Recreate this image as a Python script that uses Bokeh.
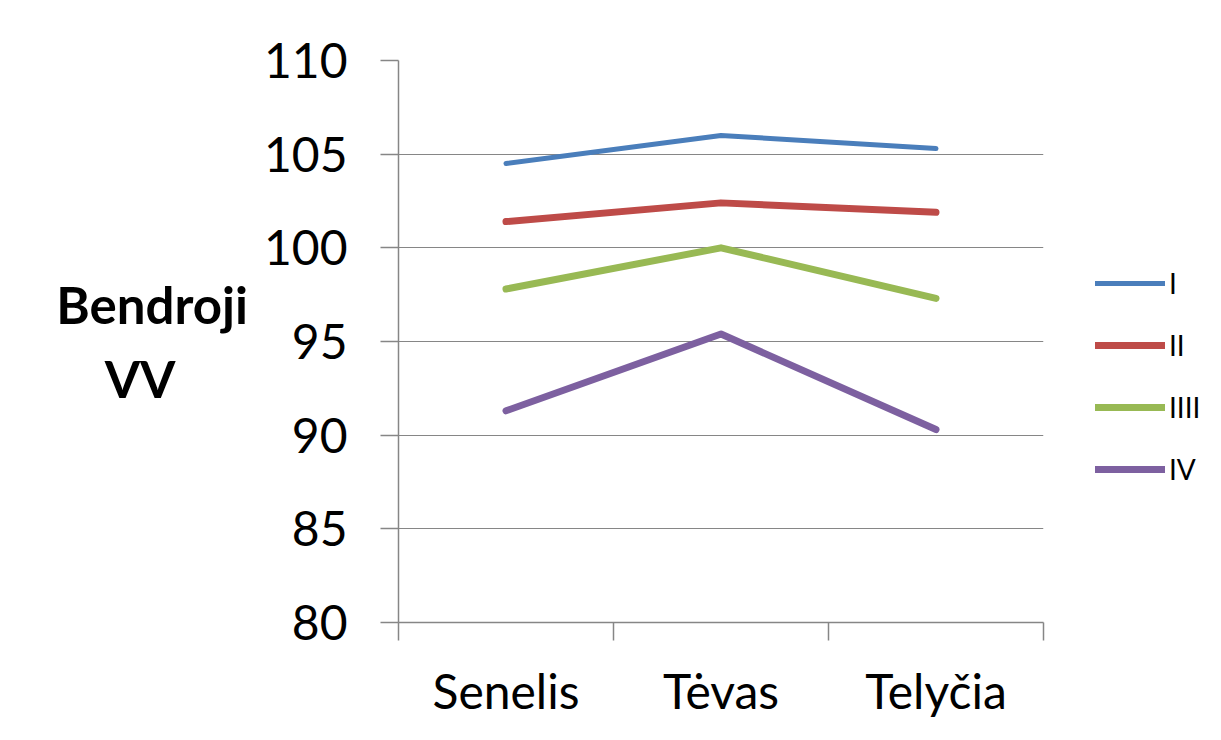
from bokeh.plotting import figure
from bokeh.models import (Range1d, LinearAxis, FixedTicker, Legend, LegendItem,
                          CustomJSTickFormatter)
from bokeh.embed import file_html
from bokeh.resources import INLINE

# ---- data ----
categories = ["Senelis", "Tėvas", "Telyčia"]
series_names = ["I", "II", "IIII", "IV"]
values_I = [104.5, 106.0, 105.3]
values_II = [101.4, 102.4, 101.9]
values_IIII = [97.8, 100.0, 97.3]
values_IV = [91.3, 95.4, 90.3]
y_ticks = [80, 85, 90, 95, 100, 105, 110]
y_label_lines = ["Bendroji", "VV"]

series_values = [values_I, values_II, values_IIII, values_IV]
colors = ["#4A7EBB", "#BE4B48", "#98B954", "#7D60A0"]
widths = [5, 7, 7, 7]

FONT = "Lato"
GRID = "#868686"

n = len(categories)
x_centers = [i + 0.5 for i in range(n)]      # category slots on a 0..n axis
x_bounds = list(range(n + 1))

p = figure(x_range=Range1d(0, n), y_range=Range1d(y_ticks[0], y_ticks[-1]),
           frame_width=645, frame_height=562,
           output_backend="svg", toolbar_location=None,
           x_axis_location=None, y_axis_location=None,
           min_border_left=398, min_border_right=160, min_border_top=60,
           min_border_bottom=100)
p.outline_line_color = None
p.xgrid.grid_line_color = None
p.ygrid.grid_line_color = GRID
p.ygrid.grid_line_width = 1.2
p.ygrid.ticker = FixedTicker(ticks=y_ticks)

# y axis
yax = LinearAxis(ticker=FixedTicker(ticks=y_ticks, minor_ticks=[]))
yax.major_label_text_font = FONT
yax.major_label_text_font_size = "48px"
yax.major_label_text_color = "#000000"
yax.major_tick_out = 18
yax.major_tick_in = 0
yax.major_tick_line_color = GRID
yax.major_tick_line_width = 1.5
yax.minor_tick_line_color = None
yax.axis_line_color = GRID
yax.axis_line_width = 1.5
yax.major_label_standoff = 33
# horizontal two-line title; second line padded so it sits centred
yax.axis_label = y_label_lines[0] + "\n" + y_label_lines[1] + "\u00a0" * 6
yax.axis_label_orientation = "horizontal"
yax.axis_label_text_font = FONT
yax.axis_label_text_font_style = "bold"
yax.axis_label_text_font_size = "51px"
yax.axis_label_text_color = "#000000"
yax.axis_label_standoff = 13
p.add_layout(yax, "left")

# x axis: labels at category centres, tick marks on category boundaries
xax = LinearAxis(ticker=FixedTicker(ticks=x_centers, minor_ticks=x_bounds))
xax.formatter = CustomJSTickFormatter(args=dict(cats=categories),
                                      code="return cats[Math.floor(tick)];")
xax.major_tick_out = 0
xax.major_tick_in = 0
xax.major_tick_line_color = None
xax.minor_tick_out = 18
xax.minor_tick_in = 0
xax.minor_tick_line_color = GRID
xax.minor_tick_line_width = 1.5
xax.axis_line_color = GRID
xax.axis_line_width = 1.5
xax.major_label_standoff = 21
xax.major_label_text_font = FONT
xax.major_label_text_font_size = "48px"
xax.major_label_text_color = "#000000"
p.add_layout(xax, "below")

items = []
for name, vals, c, w in zip(series_names, series_values, colors, widths):
    r = p.line(x_centers, vals, line_color=c, line_width=w, line_cap="round",
               line_join="round")
    items.append(LegendItem(label=name, renderers=[r]))

legend = Legend(items=items, location=(52, 136), orientation="vertical")
legend.margin = 0
legend.padding = 10
legend.border_line_color = None
legend.background_fill_alpha = 0
legend.glyph_width = 70
legend.glyph_height = 20
legend.label_height = 20
legend.spacing = 28
legend.label_standoff = 4
legend.label_text_font = FONT
legend.label_text_font_size = "28px"
legend.label_text_color = "#000000"
p.add_layout(legend, "right")

open("out.html", "w").write(file_html(p, INLINE))
